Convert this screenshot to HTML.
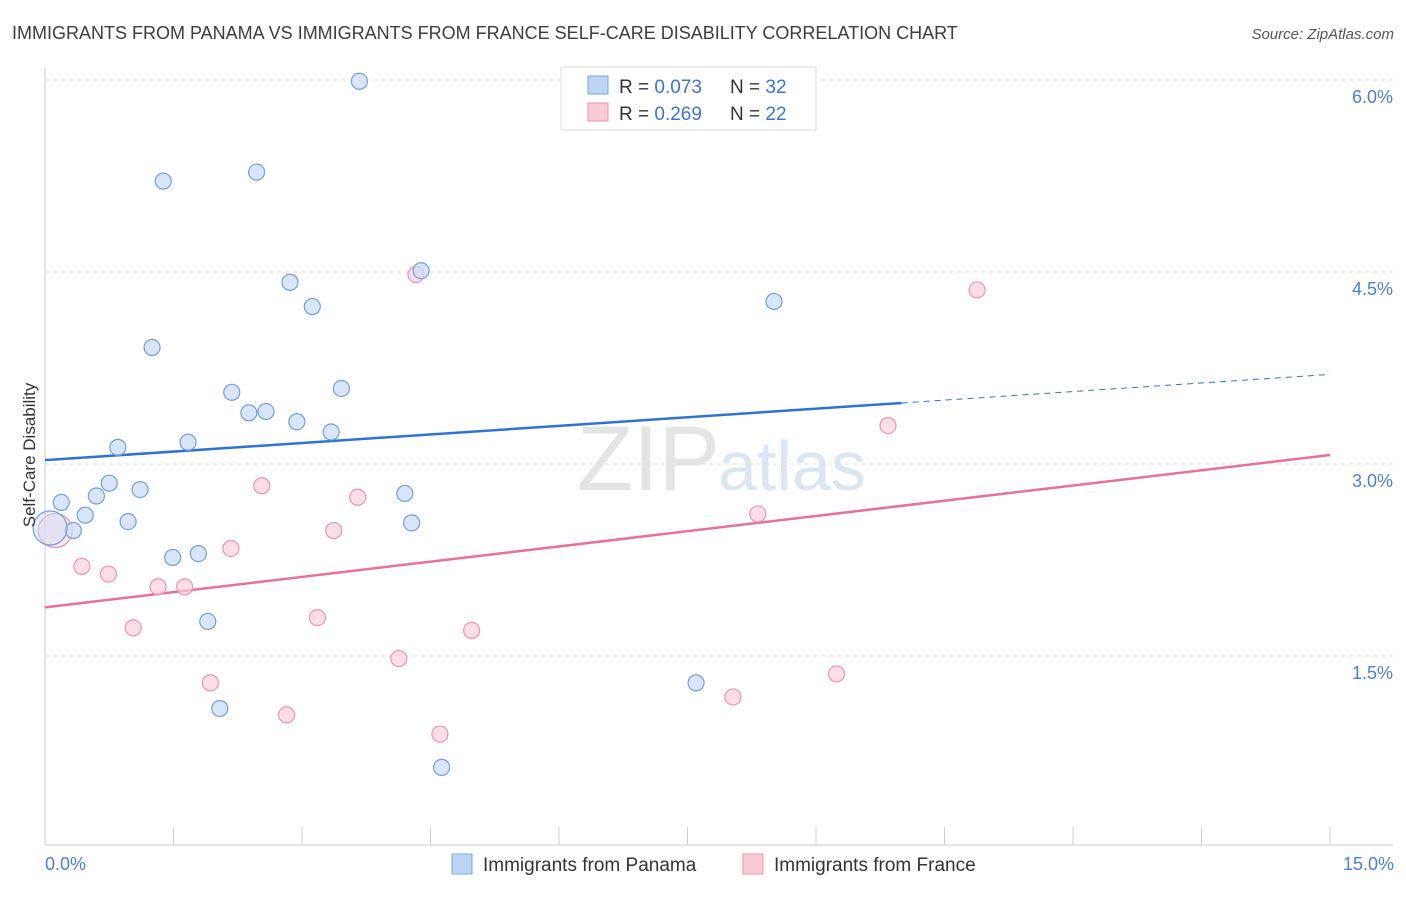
<!DOCTYPE html>
<html><head><meta charset="utf-8"><style>
body{margin:0;background:#fff;font-family:"Liberation Sans",sans-serif;}
svg text{font-family:"Liberation Sans",sans-serif;}
</style></head><body>
<svg id="c" width="1406" height="892" xmlns="http://www.w3.org/2000/svg">
<text x="12" y="39" font-size="18" fill="#3c3c3c">IMMIGRANTS FROM PANAMA VS IMMIGRANTS FROM FRANCE SELF-CARE DISABILITY CORRELATION CHART</text>
<text x="1394" y="39" font-size="15" fill="#555" font-style="italic" text-anchor="end">Source: ZipAtlas.com</text>
<text x="720" y="490" font-size="92" fill="#e4e4e4" text-anchor="end" font-family="Liberation Serif">ZIP</text>
<text x="718" y="490" font-size="70" fill="#dbe6f5">atlas</text>
<g id="grid"></g><g id="axes"></g><g id="lines"></g><g id="pts"></g>
<text x="35" y="455" font-size="17" fill="#333" text-anchor="middle" transform="rotate(-90 35 455)">Self-Care Disability</text>
<text x="45" y="870" font-size="18" fill="#4a7fd4">0.0%</text>
<text x="1394" y="870" font-size="18" fill="#4a7fd4" text-anchor="end">15.0%</text>
<g>
<rect x="561" y="67" width="255" height="63" fill="#fff" stroke="#ddd"/>
<rect x="588" y="76" width="20" height="18" fill="#bcd4f5" stroke="#7aa6e0"/>
<rect x="588" y="103" width="20" height="18" fill="#fbc8d6" stroke="#ec93ad"/>
<text x="619" y="93" font-size="19" fill="#333">R = <tspan fill="#3a74d4">0.073</tspan></text>
<text x="730" y="93" font-size="19" fill="#333">N = <tspan fill="#3a74d4">32</tspan></text>
<text x="619" y="120" font-size="19" fill="#333">R = <tspan fill="#3a74d4">0.269</tspan></text>
<text x="730" y="120" font-size="19" fill="#333">N = <tspan fill="#3a74d4">22</tspan></text>
</g>
<g>
<rect x="452" y="854" width="20" height="20" fill="#bcd4f5" stroke="#7aa6e0"/>
<text x="483" y="871" font-size="19" fill="#333">Immigrants from Panama</text>
<rect x="743" y="854" width="20" height="20" fill="#fbc8d6" stroke="#ec93ad"/>
<text x="774" y="871" font-size="19" fill="#333">Immigrants from France</text>
</g>
</svg>
<script>
const yTicks=[1.5,3.0,4.5,6.0];
const yTickLabels=["1.5%","3.0%","4.5%","6.0%"];
const xTicks=[0,1.5,3,4.5,6,7.5,9,10.5,12,13.5,15];
const panamaX=[3.67,1.38,2.47,2.86,3.12,4.39,8.51,1.25,2.18,3.46,2.38,2.58,2.94,3.34,0.85,1.67,0.19,0.60,0.75,1.11,0.47,0.33,0.97,4.20,4.28,1.49,1.79,1.90,2.04,7.60,4.63,0.06];
const panamaY=[5.99,5.21,5.28,4.42,4.23,4.51,4.27,3.91,3.56,3.59,3.40,3.41,3.33,3.25,3.13,3.17,2.70,2.75,2.85,2.80,2.60,2.48,2.55,2.77,2.54,2.27,2.30,1.77,1.09,1.29,0.63,2.50];
const franceX=[4.33,10.88,9.84,2.53,3.65,8.32,3.37,2.17,0.43,0.74,1.32,1.63,1.03,3.18,4.98,4.13,1.93,2.82,8.03,9.24,4.61,0.12];
const franceY=[4.48,4.36,3.30,2.83,2.74,2.61,2.48,2.34,2.20,2.14,2.04,2.04,1.72,1.80,1.70,1.48,1.29,1.04,1.18,1.36,0.89,2.48];
const panamaTrend=[3.03,3.70];
const franceTrend=[1.88,3.07];
const X=v=>45+v*85.667, Y=v=>80+(6-v)*128;
const NS="http://www.w3.org/2000/svg";
function mk(p,t,a){const e=document.createElementNS(NS,t);for(const k in a)e.setAttribute(k,a[k]);p.appendChild(e);return e;}
const g=document.getElementById('grid'),ax=document.getElementById('axes'),ln=document.getElementById('lines'),pt=document.getElementById('pts');
yTicks.forEach((v,i)=>{
 const l=mk(g,'line',{x1:45,x2:1393,y1:Y(v),y2:Y(v),stroke:'#ddd','stroke-dasharray':'4 4'});
 
 
 const t=mk(g,'text',{x:1393,y:Y(v)+23,'font-size':18,fill:'#4a7fd4','text-anchor':'end'});
 t.textContent=yTickLabels[i];
 
 
});
const ya=mk(ax,'line',{x1:45,x2:45,y1:68,y2:845,stroke:'#ccc'});


const xa=mk(ax,'line',{x1:45,x2:1393,y1:845,y2:845,stroke:'#ccc'});


xTicks.forEach(v=>{const t=mk(ax,'line',{x1:X(v),x2:X(v),y1:827,y2:845,stroke:'#ccc'});
 
 });
const solidEnd=10.0;
const pb=v=>panamaTrend[0]+(panamaTrend[1]-panamaTrend[0])*v/15;
let l1=mk(ln,'line',{x1:X(0),y1:Y(pb(0)),x2:X(solidEnd),y2:Y(pb(solidEnd)),stroke:'#2f72d6','stroke-width':2.5});


let l2=mk(ln,'line',{x1:X(solidEnd),y1:Y(pb(solidEnd)),x2:X(15),y2:Y(pb(15)),stroke:'#2f72d6','stroke-width':1,'stroke-dasharray':'6 5'});


let l3=mk(ln,'line',{x1:X(0),y1:Y(franceTrend[0]),x2:X(15),y2:Y(franceTrend[1]),stroke:'#e8709a','stroke-width':2.5});


function dots(xs,ys,fill,stroke,name){xs.forEach((x,i)=>{const big=i===xs.length-1;
 const c=mk(pt,'circle',{cx:X(x),cy:Y(ys[i]),r:big?17:8,fill:fill,'fill-opacity':big?0.5:0.7,stroke:stroke,'stroke-width':1.2});
 
 });}
dots(franceX,franceY,'#fbd0dc','#ec93ad','france-point');
dots(panamaX,panamaY,'#c9dcf7','#6f9fdc','panama-point');
</script>
</body></html>
